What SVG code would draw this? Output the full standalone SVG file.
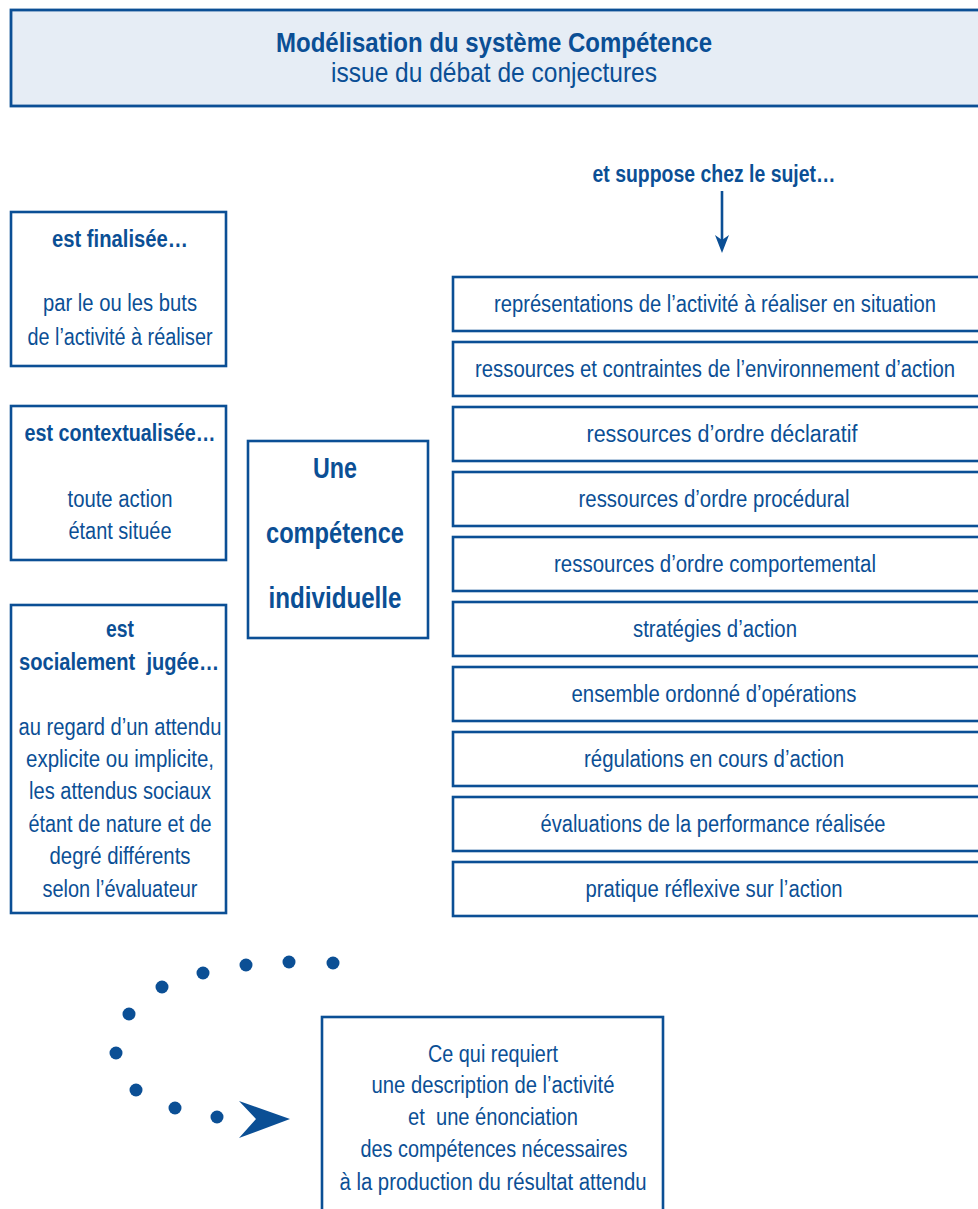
<svg xmlns="http://www.w3.org/2000/svg" width="978" height="1209" viewBox="0 0 978 1209">
<style>
.box{fill:#ffffff;stroke:#0b4f95;stroke-width:2.6}
.tbox{fill:#e6edf5;stroke:#0b4f95;stroke-width:2.8}
text{font-family:"Liberation Sans Narrow","Liberation Sans",Arial,sans-serif;fill:#0b4f95;text-anchor:middle}
.t{font-size:23px}
.b{font-size:23px;font-weight:bold}
.c{font-size:30px;font-weight:bold}
.h{font-size:28px;font-weight:bold}
.s{font-size:28px}
.pre{white-space:pre}
.dot{fill:#0b4f95}
</style>
<rect width="978" height="1209" fill="#ffffff"/>
<g id="title">
<rect class="tbox" x="11" y="10" width="985" height="96"/>
<text class="h" x="494" y="52" textLength="436" lengthAdjust="spacingAndGlyphs">Modélisation du système Compétence</text>
<text class="s" x="494" y="82" textLength="326" lengthAdjust="spacingAndGlyphs">issue du débat de conjectures</text>
</g>
<g id="finalisee">
<rect class="box" x="11" y="212" width="215" height="154"/>
<text class="b" x="120" y="247" textLength="136" lengthAdjust="spacingAndGlyphs">est finalisée…</text>
<text class="t" x="120" y="311" textLength="154" lengthAdjust="spacingAndGlyphs">par le ou les buts</text>
<text class="t" x="120" y="345" textLength="185" lengthAdjust="spacingAndGlyphs">de l’activité à réaliser</text>
</g>
<g id="contextualisee">
<rect class="box" x="11" y="406" width="215" height="154"/>
<text class="b" x="120" y="441" textLength="191" lengthAdjust="spacingAndGlyphs">est contextualisée…</text>
<text class="t" x="120" y="507" textLength="105" lengthAdjust="spacingAndGlyphs">toute action</text>
<text class="t" x="120" y="539" textLength="103" lengthAdjust="spacingAndGlyphs">étant située</text>
</g>
<g id="jugee">
<rect class="box" x="11" y="605" width="215" height="308"/>
<text class="b" x="120" y="637" textLength="28" lengthAdjust="spacingAndGlyphs">est</text>
<text class="b pre" x="119" y="670" textLength="200" lengthAdjust="spacingAndGlyphs" xml:space="preserve">socialement  jugée…</text>
<text class="t" x="120" y="735" textLength="203" lengthAdjust="spacingAndGlyphs">au regard d’un attendu</text>
<text class="t" x="120" y="767" textLength="188" lengthAdjust="spacingAndGlyphs">explicite ou implicite,</text>
<text class="t" x="120" y="799" textLength="182" lengthAdjust="spacingAndGlyphs">les attendus sociaux</text>
<text class="t" x="120" y="832" textLength="183" lengthAdjust="spacingAndGlyphs">étant de nature et de</text>
<text class="t" x="120" y="864" textLength="141" lengthAdjust="spacingAndGlyphs">degré différents</text>
<text class="t" x="120" y="897" textLength="155" lengthAdjust="spacingAndGlyphs">selon l’évaluateur</text>
</g>
<g id="competence">
<rect class="box" x="248" y="441" width="180" height="197"/>
<text class="c" x="335" y="478" textLength="44" lengthAdjust="spacingAndGlyphs">Une</text>
<text class="c" x="335" y="543" textLength="138" lengthAdjust="spacingAndGlyphs">compétence</text>
<text class="c" x="335" y="608" textLength="133" lengthAdjust="spacingAndGlyphs">individuelle</text>
</g>
<g id="suppose">
<text class="b" x="714" y="182" textLength="243" lengthAdjust="spacingAndGlyphs">et suppose chez le sujet…</text>
</g>
<g id="r1"><rect class="box" x="453" y="277" width="540" height="54"/><text class="t" x="715" y="312" textLength="442" lengthAdjust="spacingAndGlyphs">représentations de l’activité à réaliser en situation</text></g>
<g id="r2"><rect class="box" x="453" y="342" width="540" height="54"/><text class="t" x="715" y="377" textLength="480" lengthAdjust="spacingAndGlyphs">ressources et contraintes de l’environnement d’action</text></g>
<g id="r3"><rect class="box" x="453" y="407" width="540" height="54"/><text class="t" x="722" y="442" textLength="271" lengthAdjust="spacingAndGlyphs">ressources d’ordre déclaratif</text></g>
<g id="r4"><rect class="box" x="453" y="472" width="540" height="54"/><text class="t" x="714" y="507" textLength="271" lengthAdjust="spacingAndGlyphs">ressources d’ordre procédural</text></g>
<g id="r5"><rect class="box" x="453" y="537" width="540" height="54"/><text class="t" x="715" y="572" textLength="322" lengthAdjust="spacingAndGlyphs">ressources d’ordre comportemental</text></g>
<g id="r6"><rect class="box" x="453" y="602" width="540" height="54"/><text class="t" x="715" y="637" textLength="164" lengthAdjust="spacingAndGlyphs">stratégies d’action</text></g>
<g id="r7"><rect class="box" x="453" y="667" width="540" height="54"/><text class="t" x="714" y="702" textLength="285" lengthAdjust="spacingAndGlyphs">ensemble ordonné d’opérations</text></g>
<g id="r8"><rect class="box" x="453" y="732" width="540" height="54"/><text class="t" x="714" y="767" textLength="260" lengthAdjust="spacingAndGlyphs">régulations en cours d’action</text></g>
<g id="r9"><rect class="box" x="453" y="797" width="540" height="54"/><text class="t" x="713" y="832" textLength="345" lengthAdjust="spacingAndGlyphs">évaluations de la performance réalisée</text></g>
<g id="r10"><rect class="box" x="453" y="862" width="540" height="54"/><text class="t" x="714" y="897" textLength="257" lengthAdjust="spacingAndGlyphs">pratique réflexive sur l’action</text></g>
<g id="requiert">
<rect class="box" x="322" y="1017" width="341" height="220"/>
<text class="t" x="493" y="1062" textLength="130" lengthAdjust="spacingAndGlyphs">Ce qui requiert</text>
<text class="t" x="493" y="1093" textLength="243" lengthAdjust="spacingAndGlyphs">une description de l’activité</text>
<text class="t pre" x="493" y="1125" textLength="170" lengthAdjust="spacingAndGlyphs" xml:space="preserve">et  une énonciation</text>
<text class="t" x="494" y="1157" textLength="267" lengthAdjust="spacingAndGlyphs">des compétences nécessaires</text>
<text class="t" x="493" y="1190" textLength="307" lengthAdjust="spacingAndGlyphs">à la production du résultat attendu</text>
</g>
<g id="connectors">
<line x1="722" y1="191" x2="722" y2="242" stroke="#0b4f95" stroke-width="2.6"/>
<polygon points="722,253 715,235 722,240 729,235" fill="#0b4f95"/>
<circle class="dot" cx="333" cy="963" r="6.5"/>
<circle class="dot" cx="289" cy="962" r="6.5"/>
<circle class="dot" cx="246" cy="965" r="6.5"/>
<circle class="dot" cx="203" cy="973" r="6.5"/>
<circle class="dot" cx="162" cy="987" r="6.5"/>
<circle class="dot" cx="129" cy="1014" r="6.5"/>
<circle class="dot" cx="116" cy="1053" r="6.5"/>
<circle class="dot" cx="136" cy="1090" r="6.5"/>
<circle class="dot" cx="175" cy="1108" r="6.5"/>
<circle class="dot" cx="217" cy="1117" r="6.5"/>
<polygon points="290,1119 239,1101 256,1119 239,1138" fill="#0b4f95"/>
</g>
</svg>
